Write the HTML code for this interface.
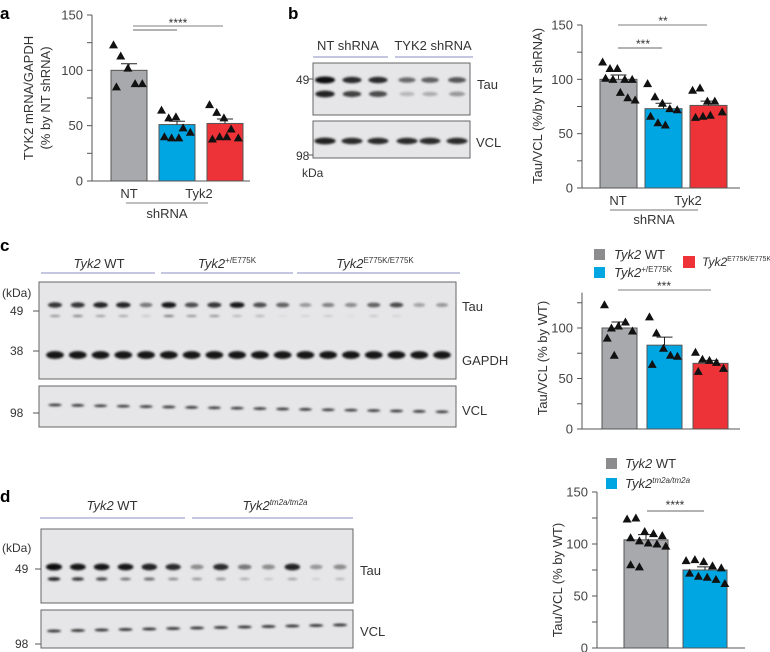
<!DOCTYPE html>
<html><head><meta charset="utf-8"><style>
body{margin:0;background:#fff;}
svg{display:block;font-family:"Liberation Sans",sans-serif;}
</style></head><body>
<svg id="fig" width="770" height="652" viewBox="0 0 770 652">
<defs><filter id="blur" x="-30%" y="-100%" width="160%" height="300%"><feGaussianBlur stdDeviation="1.1"/></filter></defs>
<g font-weight="bold" font-size="17" fill="#000">
<text x="0" y="19">a</text>
<text x="288" y="19">b</text>
<text x="0" y="251">c</text>
<text x="0" y="502">d</text>
</g>
<g id="blots" font-size="12" fill="#333"></g>
<g id="charts" font-size="12" fill="#333"></g>
</svg>
<script>
// ---------- chart data ----------
const aCats=["NT","Tyk2 shRNA 1","Tyk2 shRNA 2"];
const aMeans=[100,51,52];
const aErr=[6,3,4];
const aPts=[[123,113,102,88,88,85],[64,57,58,48,44,40,39,39],[69,62,57,47,39,38,40,40]];
const bMeans=[100,73,76];
const bErr=[4,5,4];
const bPts=[[116,110,110,100,100,101,100,88,83,81],[96,84,78,73,72,66,60,58],[90,92,80,80,70,65,66,67]];
const cMeans=[100,83,65];
const cErr=[6,8,3];
const cPts=[[123,100,102,106,97,90,73],[111,95,80,73,72,64],[76,69,68,66,60,57]];
const dMeans=[104,75];
const dErr=[5,3];
const dPts=[[124,125,112,110,108,106,103,101,100,98,80,78],[84,85,83,79,77,72,69,68,66,62]];
const ticks150=[0,50,100,150];
// ---------- blot band intensities ----------
const bTauUp=[1,0.85,0.85,0.55,0.6,0.65];
const bTauLo=[0.9,0.75,0.7,0.2,0.25,0.35];
const bVCL=[0.9,0.85,0.85,0.85,0.85,0.85];
const cTauUp=[0.8,0.8,0.9,0.9,0.5,0.95,0.7,0.8,0.95,0.7,0.6,0.35,0.45,0.4,0.6,0.7,0.3,0.35];
const cTauLo=[0.4,0.45,0.35,0.3,0.15,0.5,0.4,0.4,0.25,0.25,0.05,0.1,0.15,0.05,0.15,0.1,0,0];
const cGAP=[0.95,0.95,0.95,0.95,0.95,0.95,0.95,0.95,0.95,0.95,0.95,0.95,0.95,0.95,0.95,0.95,0.95,0.95];
const cVCL=[0.8,0.8,0.8,0.8,0.8,0.8,0.8,0.8,0.8,0.8,0.8,0.8,0.8,0.8,0.8,0.8,0.8,0.8];
const dTauUp=[1,0.95,0.95,0.95,0.9,0.85,0.4,0.85,0.5,0.4,0.9,0.35,0.4];
const dTauLo=[0.9,0.8,0.7,0.5,0.55,0.4,0.35,0.35,0.25,0.15,0.3,0.1,0.2];
const dVCL=[0.85,0.85,0.85,0.85,0.85,0.85,0.85,0.85,0.85,0.85,0.85,0.85,0.85];

const NS="http://www.w3.org/2000/svg";
function mk(tag,attrs,parent,txt){const e=document.createElementNS(NS,tag);for(const k in attrs)e.setAttribute(k,attrs[k]);if(txt!==undefined)e.textContent=txt;parent.appendChild(e);return e;}
const charts=document.getElementById('charts');
const blots=document.getElementById('blots');
const COLORS=["#a7a9ac","#00a6e2","#ee3338"];

function chart(o){
  const g=mk('g',{},charts);
  
  
  const y=v=>o.y0-(v-0)*(o.y0-o.y1)/(o.vmax);
  const ax=mk('path',{d:`M${o.ax},${y(o.axTop)}V${o.y0}H${o.axEnd}`,stroke:'#555',fill:'none','stroke-width':1},g);
  
  
  for(let v=0;v<=o.axTop;v+=25){
    mk('line',{x1:o.ax-5,x2:o.ax,y1:y(v),y2:y(v),stroke:'#555'},g);
  }
  o.ticks.forEach(v=>{
    const t=mk('text',{x:o.ax-9,y:y(v)+4.5,'text-anchor':'end','font-size':13,fill:'#444'},g,String(v));
    
    
  });
  o.means.forEach((m,i)=>{
    const x0=o.bx[i],w=o.bw;
    const r=mk('rect',{x:x0,y:y(m),width:w,height:o.y0-y(m),fill:o.colors[i],stroke:'#555','stroke-width':1},g);
    
    
    const cx=x0+w/2,ey=y(m+o.err[i]);
    mk('path',{d:`M${cx},${y(m)}V${ey}M${cx-8},${ey}H${cx+8}`,stroke:'#222','stroke-width':1,fill:'none'},g);
    const pts=o.pts[i];
    pts.forEach((v,j)=>{
      const off=((j%5)-2)*(w*0.2)+(j>=5?w*0.08:0)-w*0.03;
      const px=cx+off,py=y(v);
      const tr=mk('path',{d:`M${px},${py-4.5}L${px+4.5},${py+3.5}L${px-4.5},${py+3.5}Z`,fill:'#111'},g);
      
      
    });
  });
  return {g,y};
}

let A=chart({name:'chart-a',ax:92,y0:181,y1:15,vmax:150,axTop:150,axEnd:250,ticks:ticks150,means:aMeans,err:aErr,pts:aPts,bx:[111,159,207],bw:36,colors:COLORS});
let B=chart({name:'chart-b',ax:582,y0:188,y1:25,vmax:150,axTop:150,axEnd:740,ticks:ticks150,means:bMeans,err:bErr,pts:bPts,bx:[600,645,690],bw:37,colors:COLORS});
let C=chart({name:'chart-c',ax:582,y0:429,y1:328,vmax:100,axTop:135,axEnd:740,ticks:[0,50,100],means:cMeans,err:cErr,pts:cPts,bx:[602,647,693],bw:35,colors:COLORS});
let D=chart({name:'chart-d',ax:597,y0:648,y1:544,vmax:100,axTop:150,axEnd:745,ticks:ticks150,means:dMeans,err:dErr,pts:dPts,bx:[624,683],bw:44,colors:COLORS});

function band(xs,ys,ints,w,h,parent,tilt){
  ints.forEach((v,i)=>{
    if(v<=0)return;
    const yy=ys+(tilt?tilt*i:0);
    const c=Math.round(225-215*v);
    const e=mk('ellipse',{cx:xs[i],cy:yy,rx:w/2*(0.7+0.3*v),ry:h/2*(0.5+0.5*v),fill:`rgb(${c},${c},${c})`,filter:'url(#blur)'},parent);
    
    
  });
}
function lanes(x0,x1,n){const a=[];for(let i=0;i<n;i++)a.push(x0+(x1-x0)*i/(n-1));return a;}
function box(x,y,w,h,name){const r=mk('rect',{x,y,width:w,height:h,fill:'#e6e6e8',stroke:'#666','stroke-width':1},blots);}
box(313,63,157,52,'blot-b-tau');box(313,121,157,37,'blot-b-vcl');
const bL=[325,352,378,407,430,457];
band(bL,80,bTauUp,20,7,blots);band(bL,94,bTauLo,20,7,blots);band(bL,141,bVCL,22,7,blots);
box(39,282,417,97,'blot-c-tau-gapdh');box(39,386,417,41,'blot-c-vcl');
const cL=lanes(55,442,18);
band(cL,305,cTauUp,15,6,blots);band(cL,316,cTauLo,13,3,blots);band(cL,355,cGAP,18,8,blots);band(cL,405,cVCL,14,3,blots,0.4);
box(41,529,312,74,'blot-d-tau');box(41,610,312,38,'blot-d-vcl');
const dL=lanes(54,340,13);
band(dL,567,dTauUp,16,7,blots);band(dL,579,dTauLo,13,4,blots);band(dL,631,dVCL,15,3,blots,-0.5);
</script>
<script>
const F=document.getElementById('fig');
F.insertAdjacentHTML('beforeend',`
<g fill="#333" font-size="13">
<text transform="translate(33,98) rotate(-90)" text-anchor="middle">TYK2 mRNA/GAPDH</text>
<text transform="translate(50,98) rotate(-90)" text-anchor="middle">(% by NT shRNA)</text>
<text x="129" y="198" text-anchor="middle">NT</text>
<text x="199" y="198" text-anchor="middle">Tyk2</text>
<line x1="126" x2="208" y1="203" y2="203" stroke="#999" stroke-width="1.2"/>
<text x="167" y="218" text-anchor="middle">shRNA</text>
<line x1="133" x2="177" y1="30" y2="30" stroke="#666"/>
<line x1="133" x2="223" y1="26" y2="26" stroke="#999" stroke-width="1.2"/>
<text x="178" y="27" text-anchor="middle" font-size="12">****</text>

<text x="348" y="50" text-anchor="middle">NT shRNA</text>
<text x="433" y="50" text-anchor="middle">TYK2 shRNA</text>
<line x1="313" x2="388" y1="57" y2="57" stroke="#8b8fc0"/>
<line x1="395" x2="473" y1="57" y2="57" stroke="#8b8fc0"/>
<text x="296" y="84" font-size="12">49</text><line x1="308" x2="313" y1="79" y2="79" stroke="#555"/>
<text x="296" y="160" font-size="12">98</text><line x1="308" x2="313" y1="155" y2="155" stroke="#555"/>
<text x="302" y="177" font-size="12">kDa</text>
<text x="477" y="89">Tau</text>
<text x="476" y="147">VCL</text>
<text transform="translate(542,106) rotate(-90)" text-anchor="middle">Tau/VCL (%/by NT shRNA)</text>
<text x="618" y="205" text-anchor="middle">NT</text>
<text x="688" y="205" text-anchor="middle">Tyk2</text>
<line x1="610" x2="698" y1="210" y2="210" stroke="#777"/>
<text x="654" y="224" text-anchor="middle">shRNA</text>
<line x1="618" x2="662" y1="48" y2="48" stroke="#666"/>
<line x1="618" x2="707" y1="25" y2="25" stroke="#999" stroke-width="1.2"/>
<text x="643" y="48" text-anchor="middle" font-size="12">***</text>
<text x="663" y="25" text-anchor="middle" font-size="12">**</text>

<text x="99" y="268" text-anchor="middle"><tspan font-style="italic">Tyk2</tspan> WT</text>
<text x="227" y="268" text-anchor="middle"><tspan font-style="italic">Tyk2</tspan><tspan font-size="8" dy="-5">+/E775K</tspan></text>
<text x="375" y="268" text-anchor="middle"><tspan font-style="italic">Tyk2</tspan><tspan font-size="8" dy="-5">E775K/E775K</tspan></text>
<line x1="41" x2="155" y1="273" y2="273" stroke="#8b8fc0"/>
<line x1="161" x2="293" y1="273" y2="273" stroke="#8b8fc0"/>
<line x1="297" x2="460" y1="273" y2="273" stroke="#8b8fc0"/>
<text x="2" y="297" font-size="12">(kDa)</text>
<text x="10" y="315" font-size="12">49</text><line x1="33" x2="39" y1="311" y2="311" stroke="#555"/>
<text x="10" y="355" font-size="12">38</text><line x1="33" x2="39" y1="351" y2="351" stroke="#555"/>
<text x="10" y="417" font-size="12">98</text><line x1="33" x2="39" y1="413" y2="413" stroke="#555"/>
<text x="462" y="311">Tau</text>
<text x="462" y="365">GAPDH</text>
<text x="462" y="415">VCL</text>
<rect x="594" y="249" width="11" height="11" fill="#8c8c8e"/>
<text x="614" y="259"><tspan font-style="italic">Tyk2</tspan> WT</text>
<rect x="594" y="267" width="11" height="11" fill="#00a6e2"/>
<text x="614" y="277"><tspan font-style="italic">Tyk2</tspan><tspan font-size="8" dy="-5">+/E775K</tspan></text>
<rect x="683" y="256" width="12" height="12" fill="#ee3338"/>
<text x="702" y="266" font-size="12"><tspan font-style="italic">Tyk2</tspan><tspan font-size="7" dy="-5">E775K/E775K</tspan></text>
<line x1="618" x2="711" y1="290" y2="290" stroke="#999" stroke-width="1.2"/>
<text x="664" y="290" text-anchor="middle" font-size="12">***</text>
<text transform="translate(547,358) rotate(-90)" text-anchor="middle">Tau/VCL (% by WT)</text>

<text x="112" y="510" text-anchor="middle"><tspan font-style="italic">Tyk2</tspan> WT</text>
<text x="275" y="510" text-anchor="middle"><tspan font-style="italic">Tyk2</tspan><tspan font-size="8" dy="-5" font-style="italic">tm2a/tm2a</tspan></text>
<line x1="40" x2="185" y1="518" y2="518" stroke="#8b8fc0"/>
<line x1="192" x2="353" y1="518" y2="518" stroke="#8b8fc0"/>
<text x="2" y="552" font-size="12">(kDa)</text>
<text x="15" y="573" font-size="12">49</text><line x1="35" x2="41" y1="569" y2="569" stroke="#555"/>
<text x="15" y="648" font-size="12">98</text><line x1="35" x2="41" y1="644" y2="644" stroke="#555"/>
<text x="360" y="575">Tau</text>
<text x="360" y="636">VCL</text>
<rect x="606" y="458" width="11" height="11" fill="#8c8c8e"/>
<text x="625" y="468"><tspan font-style="italic">Tyk2</tspan> WT</text>
<rect x="606" y="478" width="11" height="11" fill="#00a6e2"/>
<text x="625" y="488"><tspan font-style="italic">Tyk2</tspan><tspan font-size="8" dy="-5" font-style="italic">tm2a/tm2a</tspan></text>
<line x1="647" x2="704" y1="511" y2="511" stroke="#666"/>
<text x="675" y="509" text-anchor="middle" font-size="12">****</text>
<text transform="translate(562,580) rotate(-90)" text-anchor="middle">Tau/VCL (% by WT)</text>
</g>`);
</script>
</body></html>
